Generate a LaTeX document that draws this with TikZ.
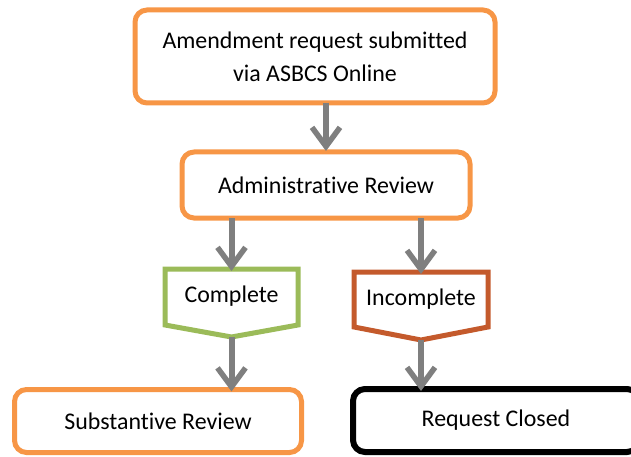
\documentclass[tikz,border=0pt]{standalone}
\usepackage{fontspec}
\setmainfont{Carlito}[Ligatures=NoCommon]
\usetikzlibrary{arrows.meta,calc}
\definecolor{boxorange}{HTML}{F79646}
\definecolor{boxgreen}{HTML}{9BBB59}
\definecolor{boxrust}{HTML}{C45A2C}
\definecolor{arrowgray}{HTML}{7F7F7F}
\begin{document}
\begin{tikzpicture}[x=1pt,y=-1pt,
  every node/.style={font=\fontsize{23.9}{33}\selectfont, align=center, inner sep=0pt, outer sep=0pt},
  roundbox/.style={draw=boxorange, line width=5pt, rounded corners=12pt, fill=white},
  blackbox/.style={draw=black, line width=6pt, rounded corners=12pt, fill=white},
  flowarrow/.style={draw=arrowgray, line width=6pt, -{Straight Barb[length=19pt,width=28pt,line width=5.5pt]}},
  penta/.style={line width=5pt, fill=white, line join=miter}
]
\useasboundingbox (0,0) rectangle (631,457);
\clip (0,0) rectangle (631,457);

% top box
\node[roundbox, minimum width=360pt, minimum height=93pt] (submit) at (315,56.5)
  {Amendment request submitted\\via ASBCS Online};
% administrative review
\node[roundbox, minimum width=288pt, minimum height=66pt] (admin) at (326,185)
  {Administrative Review};

% complete pentagon
\node[minimum width=133pt, minimum height=56pt] (complete) at (231.5,297) {};
\coordinate (ctip) at ($(complete.south)+(0,12)$);
\draw[penta, draw=boxgreen] (complete.north west) -- (complete.north east) -- (complete.south east)
  -- (ctip) -- (complete.south west) -- cycle;
\node at (231.5,296) {Complete};

% incomplete pentagon
\node[minimum width=134pt, minimum height=55pt] (incomplete) at (421,299.5) {};
\coordinate (itip) at ($(incomplete.south)+(0,13)$);
\draw[penta, draw=boxrust] (incomplete.north west) -- (incomplete.north east) -- (incomplete.south east)
  -- (itip) -- (incomplete.south west) -- cycle;
\node at (421,299) {Incomplete};

% bottom boxes
\node[roundbox, minimum width=287pt, minimum height=63pt] (subst) at (158,421)
  {Substantive Review};
\node[blackbox, minimum width=286pt, minimum height=63pt] (closed) at (496,420.5)
  {Request Closed};

% arrows
\draw[flowarrow] (admin.north |- submit.south) -- ([yshift=1pt]admin.north);
\draw[flowarrow] (complete.north |- admin.south) -- ([yshift=-2pt]complete.north);
\draw[flowarrow] (incomplete.north |- admin.south) -- ([yshift=-2pt]incomplete.north);
\draw[flowarrow] (ctip) -- ([yshift=-2pt]ctip |- subst.north);
\draw[flowarrow] (itip) -- ([yshift=-2pt]itip |- closed.north);
\end{tikzpicture}
\end{document}
